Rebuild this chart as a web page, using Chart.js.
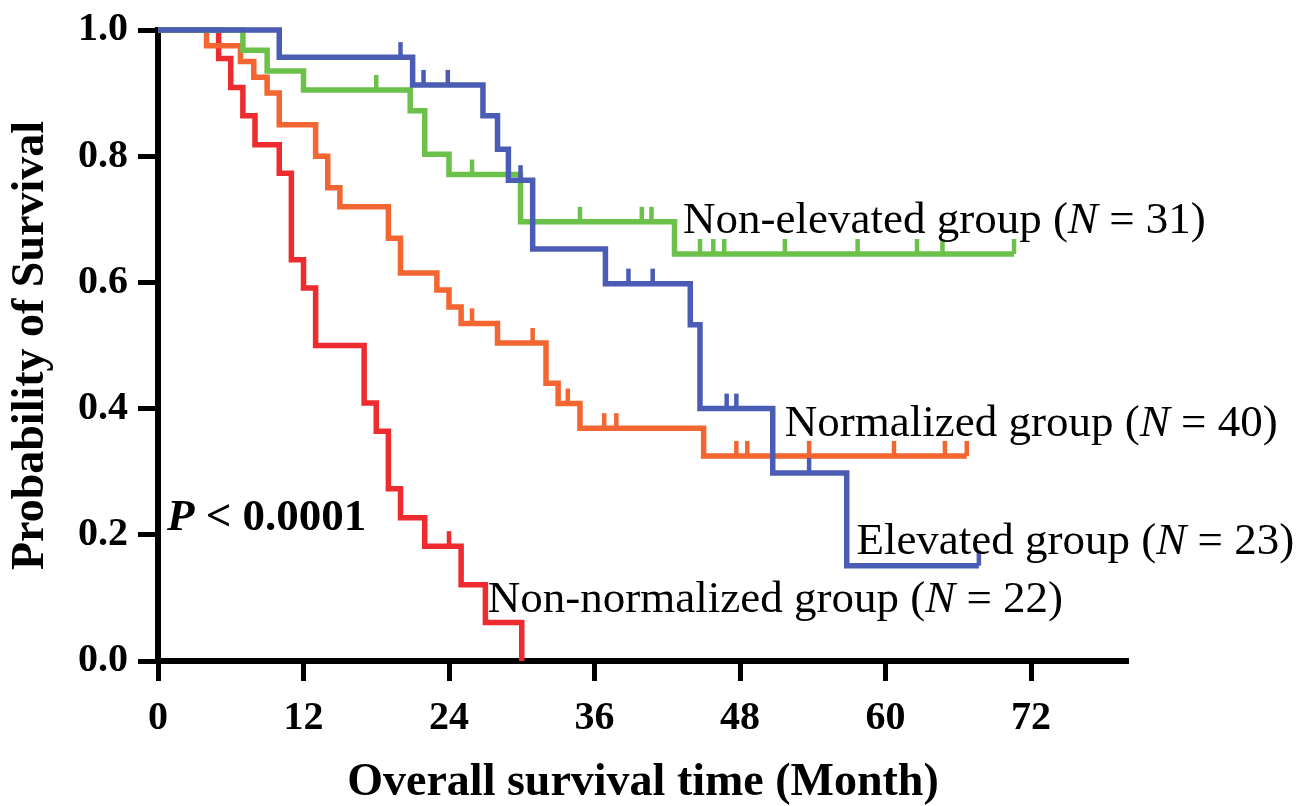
<!DOCTYPE html>
<html>
<head>
<meta charset="utf-8">
<title>Overall survival</title>
<script src="https://cdn.jsdelivr.net/npm/chart.js@4.4.0/dist/chart.umd.min.js"></script>
<style>
  html, body { margin: 0; padding: 0; background: #fff; }
  canvas { display: block; }
</style>
</head>
<body>
<canvas id="km" width="1312" height="806"></canvas>
<script>
// tick labels
const xTicks = [0, 12, 24, 36, 48, 60, 72];
const yTicks = [0, 0.2, 0.4, 0.6, 0.8, 1.0];

// Non-normalized group (N = 22)
const nonNormTime = [0, 5, 6, 7, 8, 10, 11, 12, 13, 17, 18, 19, 20, 22, 25, 27, 30];
const nonNormSurv = [1, 0.955, 0.909, 0.864, 0.818, 0.773, 0.636, 0.591, 0.5, 0.409, 0.364, 0.273, 0.227, 0.182, 0.121, 0.061, 0];
const nonNormCensor = [24];

// Normalized group (N = 40)
const normTime = [0, 4, 6.8, 7.9, 9, 10, 13, 14, 15, 19, 20, 23, 24, 25, 28, 32, 33, 34.8, 45, 66.7];
const normSurv = [1, 0.975, 0.95, 0.925, 0.9, 0.85, 0.8, 0.75, 0.72, 0.67, 0.615, 0.588, 0.561, 0.535, 0.504, 0.44, 0.408, 0.369, 0.325, 0.325];
const normCensor = [25.9, 30.9, 33.8, 36.8, 37.8, 47.7, 48.6, 53.7, 60.7, 64.9, 66.7];

// Elevated group (N = 23)
const elevTime = [0, 10, 21, 26.8, 28, 28.9, 30.9, 36.9, 43.9, 44.7, 50.7, 56.8, 67.7];
const elevSurv = [1, 0.957, 0.913, 0.864, 0.811, 0.762, 0.653, 0.598, 0.533, 0.4, 0.298, 0.151, 0.151];
const elevCensor = [20, 21.9, 23.9, 29.9, 38.8, 40.8, 46.9, 47.7, 53.7, 67.7];

// Non-elevated group (N = 31)
const nonElevTime = [0, 7, 9, 12, 20.8, 22, 24, 29.9, 42.6, 70.6];
const nonElevSurv = [1, 0.968, 0.935, 0.905, 0.872, 0.803, 0.771, 0.696, 0.645, 0.645];
const nonElevCensor = [18, 25.9, 34.8, 39.9, 40.7, 44.7, 45.8, 46.7, 51.7, 57.7, 62.6, 64.7, 70.6];

const SERIF = "'Liberation Serif', 'Times New Roman', serif";

// first one is drawn on top
const groups = [
    { time: elevTime, surv: elevSurv, censor: elevCensor, color: '#4b5cb4' },
    { time: nonElevTime, surv: nonElevSurv, censor: nonElevCensor, color: '#6cc14b' },
    { time: normTime, surv: normSurv, censor: normCensor, color: '#f36531' },
    { time: nonNormTime, surv: nonNormSurv, censor: nonNormCensor, color: '#ee2b2e' }
];

// group labels, anchored at (month, probability) of the text baseline start
const notes = [
    { at: [43.3, 0.678], parts: [['Non-elevated group (', ''], ['N', 'italic '], [' = 31)', '']] },
    { at: [51.7, 0.356], parts: [['Normalized group (', ''], ['N', 'italic '], [' = 40)', '']] },
    { at: [57.6, 0.170], parts: [['Elevated group (', ''], ['N', 'italic '], [' = 23)', '']] },
    { at: [27.2, 0.077], parts: [['Non-normalized group (', ''], ['N', 'italic '], [' = 22)', '']] },
    { at: [0.74, 0.208], parts: [['P', 'italic bold '], [' < 0.0001', 'bold ']] }
];

function levelAt(times, surv, t) {
    let v = surv[0];
    for (let i = 0; i < times.length; i++) {
        if (times[i] <= t) v = surv[i];
    }
    return v;
}

// 중도절단 표시 (censor ticks)
const censorTicks = {
    id: 'censorTicks',
    afterDatasetsDraw(chart) {
        const { ctx, scales: { x, y } } = chart;
        ctx.save();
        ctx.lineWidth = 4.5;
        ctx.lineCap = 'butt';
        for (let g = groups.length - 1; g >= 0; g--) {
            const grp = groups[g];
            ctx.strokeStyle = grp.color;
            grp.censor.forEach(t => {
                const px = x.getPixelForValue(t);
                const py = y.getPixelForValue(levelAt(grp.time, grp.surv, t));
                ctx.beginPath();
                ctx.moveTo(px, py);
                ctx.lineTo(px, py - 15);
                ctx.stroke();
            });
        }
        ctx.restore();
    }
};

const groupLabels = {
    id: 'groupLabels',
    afterDraw(chart) {
        const { ctx, scales: { x, y } } = chart;
        ctx.save();
        ctx.fillStyle = '#000';
        ctx.textBaseline = 'alphabetic';
        ctx.textAlign = 'left';
        notes.forEach(n => {
            let px = x.getPixelForValue(n.at[0]);
            const py = y.getPixelForValue(n.at[1]);
            n.parts.forEach(([txt, style]) => {
                ctx.font = `${style}45px ${SERIF}`;
                ctx.fillText(txt, px, py);
                px += ctx.measureText(txt).width;
            });
        });
        ctx.restore();
    }
};

const datasets = groups.map(g => ({
    data: g.time.map((t, i) => ({ x: t, y: g.surv[i] })),
    borderColor: g.color,
    borderWidth: 5.5,
    stepped: true,
    pointRadius: 0,
    fill: false,
    clip: false,
    borderJoinStyle: 'miter',
    borderCapStyle: 'butt'
}));

const tickFont = { family: SERIF, size: 40, weight: 'bold', lineHeight: 1 };
const titleFont = { family: SERIF, size: 46, weight: 'bold', lineHeight: 1 };

new Chart(document.getElementById('km'), {
    type: 'line',
    data: { datasets },
    options: {
        responsive: false,
        animation: false,
        layout: { padding: { top: 24, right: 184, left: 0, bottom: 0 } },
        plugins: {
            legend: { display: false },
            tooltip: { enabled: false }
        },
        scales: {
            x: {
                type: 'linear',
                min: 0,
                max: 80,
                afterBuildTicks: s => { s.ticks = xTicks.map(v => ({ value: v })); },
                afterFit: s => { s.height = 145; },
                border: { display: true, color: '#000', width: 6 },
                grid: { drawOnChartArea: false, drawTicks: true, tickLength: 20, tickWidth: 5, tickColor: '#000' },
                ticks: { color: '#000', font: tickFont, padding: 18, maxRotation: 0, autoSkip: false },
                title: { display: true, text: 'Overall survival time (Month)', color: '#000', font: titleFont, padding: { top: 0, bottom: 0 } }
            },
            y: {
                min: 0,
                max: 1,
                afterBuildTicks: s => { s.ticks = yTicks.map(v => ({ value: v })); },
                afterFit: s => { s.width = 158; },
                border: { display: true, color: '#000', width: 6 },
                grid: { drawOnChartArea: false, drawTicks: true, tickLength: 20, tickWidth: 5, tickColor: '#000' },
                ticks: { color: '#000', font: tickFont, padding: 10, callback: v => v.toFixed(1) },
                title: { display: true, text: 'Probability of Survival', color: '#000', font: titleFont, padding: { top: 8, bottom: 0 } }
            }
        }
    },
    plugins: [censorTicks, groupLabels]
});
</script>
</body>
</html>
